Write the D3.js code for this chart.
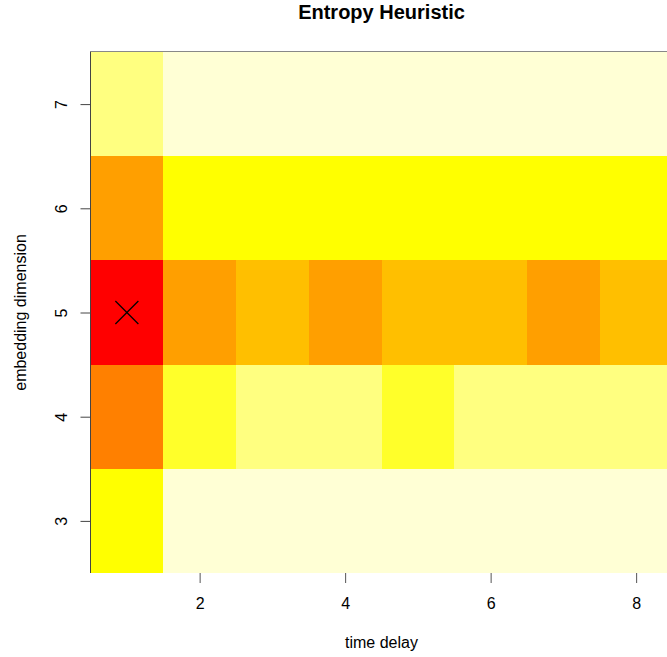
<!DOCTYPE html>
<html>
<head>
<meta charset="utf-8">
<script src="https://cdn.jsdelivr.net/npm/d3@7"></script>
<style>
  html, body { margin: 0; padding: 0; background: #fff; }
  svg { display: block; }
  text { font-family: "Liberation Sans", Arial, Helvetica, sans-serif; fill: #000; }
</style>
</head>
<body>
<script>
// ---- data ----
const timeDelays = [1, 2, 3, 4, 5, 6, 7, 8];
const embeddingDims = [3, 4, 5, 6, 7];
// heat level per cell (1 = lowest entropy / red ... 12 = highest / pale yellow)
const levelsDim3 = [9, 12, 12, 12, 12, 12, 12, 12];
const levelsDim4 = [5, 10, 11, 11, 10, 11, 11, 11];
const levelsDim5 = [1, 6, 7, 6, 7, 7, 6, 7];
const levelsDim6 = [6, 9, 9, 9, 9, 9, 9, 9];
const levelsDim7 = [11, 12, 12, 12, 12, 12, 12, 12];
const xTickValues = [2, 4, 6, 8];
const yTickValues = [3, 4, 5, 6, 7];
const titleText = "Entropy Heuristic";
const xLabel = "time delay";
const yLabel = "embedding dimension";

// heat.colors(12) palette (style)
const heatPalette = ["#FF0000", "#FF2000", "#FF4000", "#FF6000", "#FF8000", "#FF9F00",
                     "#FFBF00", "#FFDF00", "#FFFF00", "#FFFF2A", "#FFFF80", "#FFFFD5"];

(function () {
const rows = [levelsDim3, levelsDim4, levelsDim5, levelsDim6, levelsDim7];
const cells = [];
embeddingDims.forEach((dim, i) => {
  timeDelays.forEach((t, j) => cells.push({ t, dim, level: rows[i][j] }));
});

const W = 667, H = 657;
const pLeft = 90.5, pRight = 672.5, pTop = 52, pBottom = 573;

const x = d3.scaleLinear().domain([0.5, 8.5]).range([pLeft, pRight]);
const y = d3.scaleLinear().domain([2.5, 7.5]).range([pBottom, pTop]);
const color = d3.scaleOrdinal().domain(d3.range(1, 13)).range(heatPalette);

const svg = d3.select("body").append("svg").attr("width", W).attr("height", H);

svg.append("g").attr("shape-rendering", "crispEdges")
  .selectAll("rect").data(cells).join("rect")
  .attr("x", d => x(d.t - 0.5))
  .attr("y", d => y(d.dim + 0.5))
  .attr("width", d => x(d.t + 0.5) - x(d.t - 0.5))
  .attr("height", d => y(d.dim - 0.5) - y(d.dim + 0.5))
  .attr("fill", d => color(d.level));

// frame lines (top & left visible)
svg.append("line").attr("x1", pLeft).attr("x2", W).attr("y1", pTop - 0.5).attr("y2", pTop - 0.5)
  .attr("stroke", "#888").attr("stroke-width", 1);
svg.append("line").attr("x1", pLeft).attr("x2", pLeft).attr("y1", pTop - 0.5).attr("y2", pBottom)
  .attr("stroke", "#444").attr("stroke-width", 1);

// minimum marker
const minCell = cells.reduce((a, b) => (b.level < a.level ? b : a));
const mx = x(minCell.t), my = y(minCell.dim), r = 11.5;
const mk = svg.append("g").attr("stroke", "#000").attr("stroke-width", 1.3);
mk.append("line").attr("x1", mx - r).attr("y1", my - r).attr("x2", mx + r).attr("y2", my + r);
mk.append("line").attr("x1", mx - r).attr("y1", my + r).attr("x2", mx + r).attr("y2", my - r);

// x axis
const xAxis = svg.append("g").attr("transform", `translate(0,${pBottom})`)
  .call(d3.axisBottom(x).tickValues(xTickValues).tickSize(10).tickPadding(15).tickFormat(d3.format("d")));
xAxis.select(".domain").remove();
xAxis.selectAll("line").attr("stroke", "#555");
xAxis.selectAll("text").attr("font-size", 16).attr("font-family", null).attr("fill", "#000");

// y axis
const yAxis = svg.append("g").attr("transform", `translate(${pLeft},0)`)
  .call(d3.axisLeft(y).tickValues(yTickValues).tickSize(10).tickFormat(d3.format("d")));
yAxis.select(".domain").remove();
yAxis.selectAll("line").attr("stroke", "#444");
yAxis.selectAll("text")
  .attr("x", null).attr("dy", null)
  .attr("transform", `translate(${67 - pLeft},0) rotate(-90)`)
  .attr("text-anchor", "middle")
  .attr("font-size", 16).attr("font-family", null).attr("fill", "#000");

// title and axis labels
svg.append("text").attr("x", (pLeft + pRight) / 2).attr("y", 18.5)
  .attr("text-anchor", "middle").attr("font-size", 20).attr("font-weight", "bold").text(titleText);
svg.append("text").attr("x", (pLeft + pRight) / 2).attr("y", 648)
  .attr("text-anchor", "middle").attr("font-size", 16).text(xLabel);
svg.append("text").attr("transform", `translate(26,${(pTop + pBottom) / 2}) rotate(-90)`)
  .attr("text-anchor", "middle").attr("font-size", 16).text(yLabel);
})();
</script>
</body>
</html>
